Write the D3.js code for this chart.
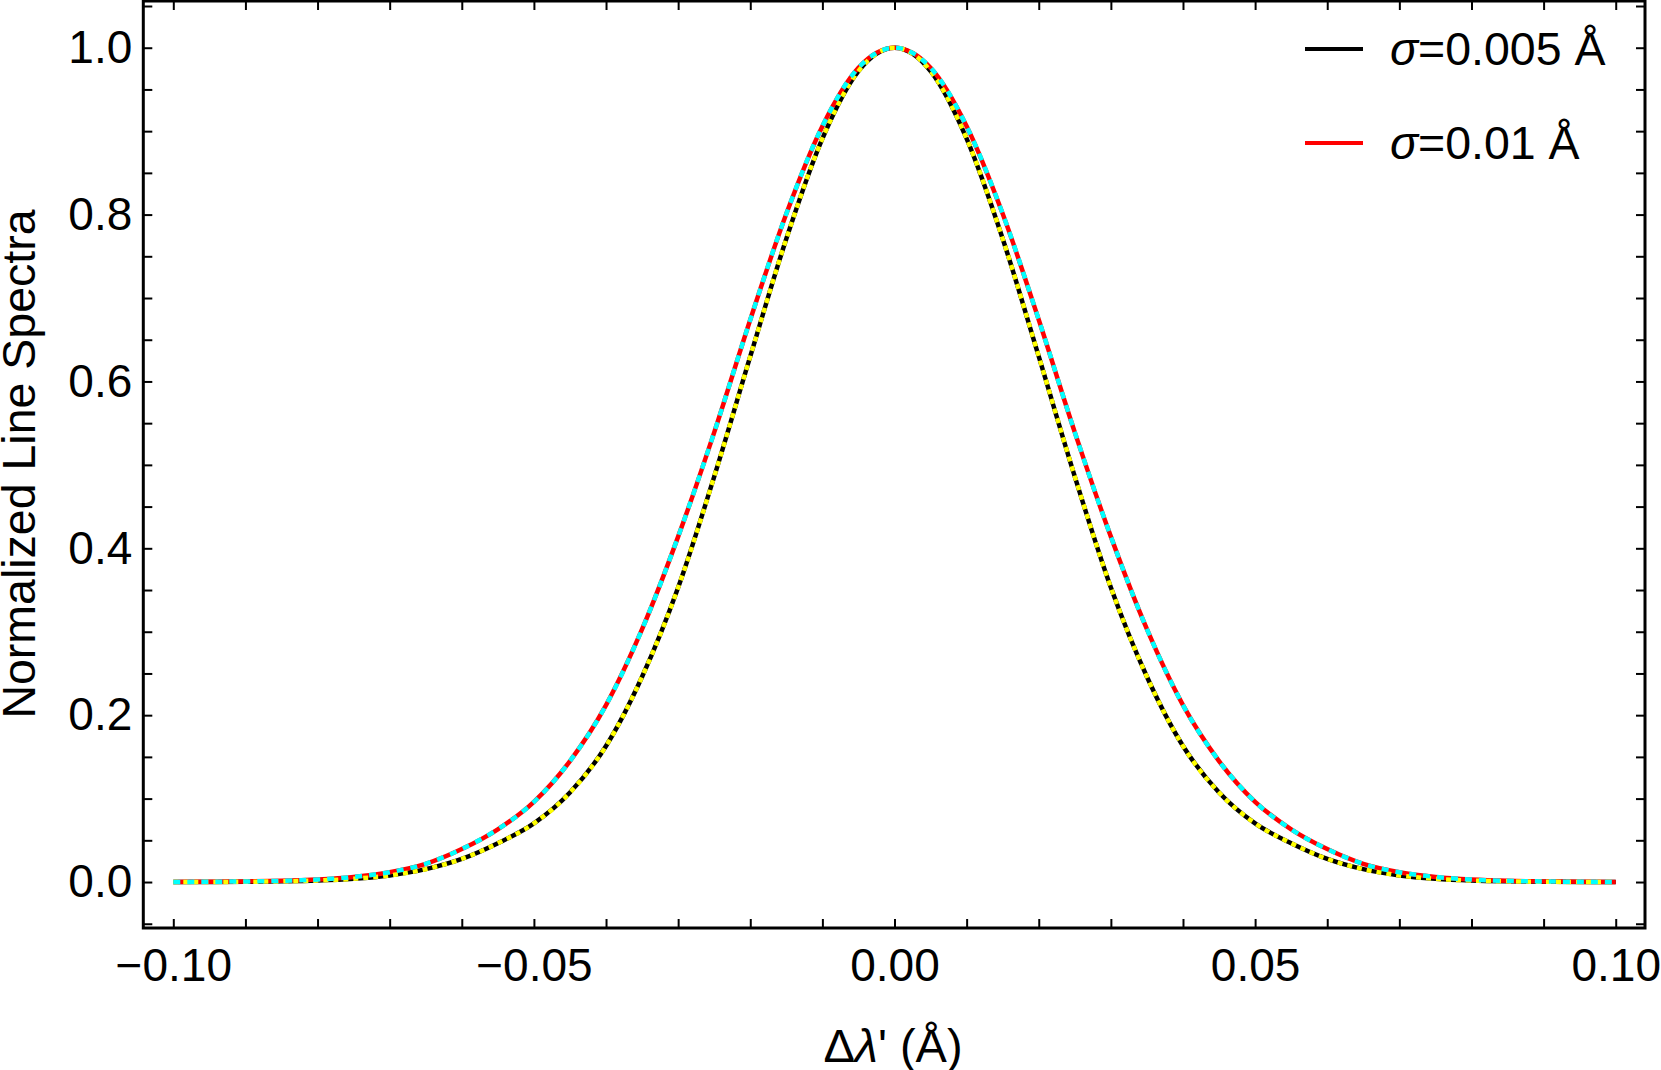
<!DOCTYPE html>
<html>
<head>
<meta charset="utf-8">
<script src="https://cdn.jsdelivr.net/npm/d3@7"></script>
<style>
    body { margin: 0; background: #fff; }
    svg text { font-family: "Liberation Sans", Arial, sans-serif; fill: #000; }
    .frame { fill: none; stroke: #000; stroke-width: 3; }
    .tick line { stroke: #000; stroke-width: 2; }
    .domain { display: none; }
</style>
</head>
<body>
<svg id="chart" width="1661" height="1070"></svg>
<script>

    // wavelength offsets (Å)
    var deltaLambda = [
        -0.100, -0.095, -0.090, -0.085, -0.080, -0.075, -0.070, -0.065, -0.060, -0.055,
        -0.050, -0.045, -0.040, -0.035, -0.030, -0.025, -0.020, -0.015, -0.010, -0.005,
        0.000,
        0.005, 0.010, 0.015, 0.020, 0.025, 0.030, 0.035, 0.040, 0.045, 0.050,
        0.055, 0.060, 0.065, 0.070, 0.075, 0.080, 0.085, 0.090, 0.095, 0.100
    ];

    // sigma = 0.005 Å
    var spectrumNarrow = [
        0.0000, 0.0001, 0.0003, 0.0008, 0.0018, 0.0039, 0.0079, 0.0154, 0.0277, 0.0465,
        0.0703, 0.1073, 0.163, 0.246, 0.353, 0.486, 0.630, 0.771, 0.891, 0.972,
        1.000,
        0.972, 0.891, 0.771, 0.630, 0.486, 0.353, 0.246, 0.163, 0.1073, 0.0703,
        0.0465, 0.0277, 0.0154, 0.0079, 0.0039, 0.0018, 0.0008, 0.0003, 0.0001, 0.0000
    ];

    // sigma = 0.01 Å
    var spectrumWide = [
        0.0001, 0.0003, 0.0007, 0.0014, 0.0030, 0.0061, 0.0118, 0.0218, 0.0395, 0.0632,
        0.0961, 0.145, 0.212, 0.303, 0.414, 0.539, 0.674, 0.801, 0.906, 0.976,
        1.000,
        0.976, 0.906, 0.801, 0.674, 0.539, 0.414, 0.303, 0.212, 0.145, 0.0961,
        0.0632, 0.0395, 0.0218, 0.0118, 0.0061, 0.0030, 0.0014, 0.0007, 0.0003, 0.0001
    ];

    var xMajorTicks = [-0.10, -0.05, 0.00, 0.05, 0.10];
    var xTickLabels = ['\u22120.10', '\u22120.05', '0.00', '0.05', '0.10'];
    var yMajorTicks = [0.0, 0.2, 0.4, 0.6, 0.8, 1.0];
    var yTickLabels = ['0.0', '0.2', '0.4', '0.6', '0.8', '1.0'];
    var legendLabels = ['0.005', '0.01'];

    var plotLeft = 143.3, plotRight = 1645, plotTop = 1, plotBottom = 928;

    var xScale = d3.scaleLinear().domain([-0.10416, 0.10406]).range([plotLeft, plotRight]);
    var yScale = d3.scaleLinear().domain([-0.0551, 1.056]).range([plotBottom, plotTop]);

    var svg = d3.select('#chart');

    var xMinor = d3.range(-10, 11).map(function (i) { return i / 100; });
    var yMinor = d3.range(-1, 22).map(function (i) { return i / 20; });

    var tickLen = 9;

    var fmtX = function (d) {
        var i = xMajorTicks.findIndex(function (t) { return Math.abs(t - d) < 1e-9; });
        return i < 0 ? '' : xTickLabels[i];
    };
    var fmtY = function (d) {
        var i = yMajorTicks.findIndex(function (t) { return Math.abs(t - d) < 1e-9; });
        return i < 0 ? '' : yTickLabels[i];
    };

    // bottom axis, ticks pointing inward
    svg.append('g')
        .attr('transform', 'translate(0,' + plotBottom + ')')
        .call(d3.axisBottom(xScale).tickValues(xMinor).tickSize(-tickLen).tickPadding(20).tickFormat(fmtX))
        .call(function (g) {
            g.selectAll('text').attr('font-size', 46).attr('dy', '0.71em');
        });

    // top axis
    svg.append('g')
        .attr('transform', 'translate(0,' + plotTop + ')')
        .call(d3.axisTop(xScale).tickValues(xMinor).tickSize(-tickLen).tickFormat(''));

    // left axis
    svg.append('g')
        .attr('transform', 'translate(' + plotLeft + ',0)')
        .call(d3.axisLeft(yScale).tickValues(yMinor).tickSize(-tickLen).tickPadding(11).tickFormat(fmtY))
        .call(function (g) {
            g.selectAll('text').attr('font-size', 46);
        });

    // right axis
    svg.append('g')
        .attr('transform', 'translate(' + plotRight + ',0)')
        .call(d3.axisRight(yScale).tickValues(yMinor).tickSize(-tickLen).tickFormat(''));

    svg.append('rect')
        .classed('frame', true)
        .attr('x', plotLeft)
        .attr('y', plotTop)
        .attr('width', plotRight - plotLeft)
        .attr('height', plotBottom - plotTop);

    var line = function (values) {
        return d3.line()
            .x(function (d, i) { return xScale(deltaLambda[i]); })
            .y(function (d) { return yScale(d); })
            .curve(d3.curveMonotoneX)(values);
    };

    var curves = [
        { values: spectrumNarrow, color: '#000', dash: null },
        { values: spectrumWide, color: '#ff0000', dash: null },
        { values: spectrumNarrow, color: '#ffff00', dash: '5,5' },
        { values: spectrumWide, color: '#00ffff', dash: '7,7' }
    ];

    svg.append('g')
        .selectAll('path')
        .data(curves)
        .enter().append('path')
        .attr('d', function (d) { return line(d.values); })
        .attr('fill', 'none')
        .attr('stroke', function (d) { return d.color; })
        .attr('stroke-width', 4.5)
        .attr('stroke-dasharray', function (d) { return d.dash; });

    // legend
    var legend = svg.append('g');
    var legendColors = ['#000', '#ff0000'];

    legendLabels.forEach(function (label, i) {
        var y = 49 + i * 94;
        legend.append('line')
            .attr('x1', 1305).attr('x2', 1363)
            .attr('y1', y).attr('y2', y)
            .attr('stroke', legendColors[i])
            .attr('stroke-width', 4);
        var t = legend.append('text')
            .attr('x', 1390)
            .attr('y', y + 16)
            .attr('font-size', 46.5);
        t.append('tspan').attr('font-style', 'italic').text('\u03c3');
        t.append('tspan').text('=' + label + ' \u00c5');
    });

    // axis titles
    var xTitle = svg.append('text')
        .attr('x', 893)
        .attr('y', 1062)
        .attr('text-anchor', 'middle')
        .attr('font-size', 47);
    xTitle.append('tspan').text('\u0394');
    xTitle.append('tspan').attr('font-style', 'italic').text('\u03bb');
    xTitle.append('tspan').text('\' (\u00c5)');

    svg.append('text')
        .attr('transform', 'translate(35,' + 464 + ') rotate(-90)')
        .attr('text-anchor', 'middle')
        .attr('font-size', 46.5)
        .text('Normalized Line Spectra');

</script>
</body>
</html>
